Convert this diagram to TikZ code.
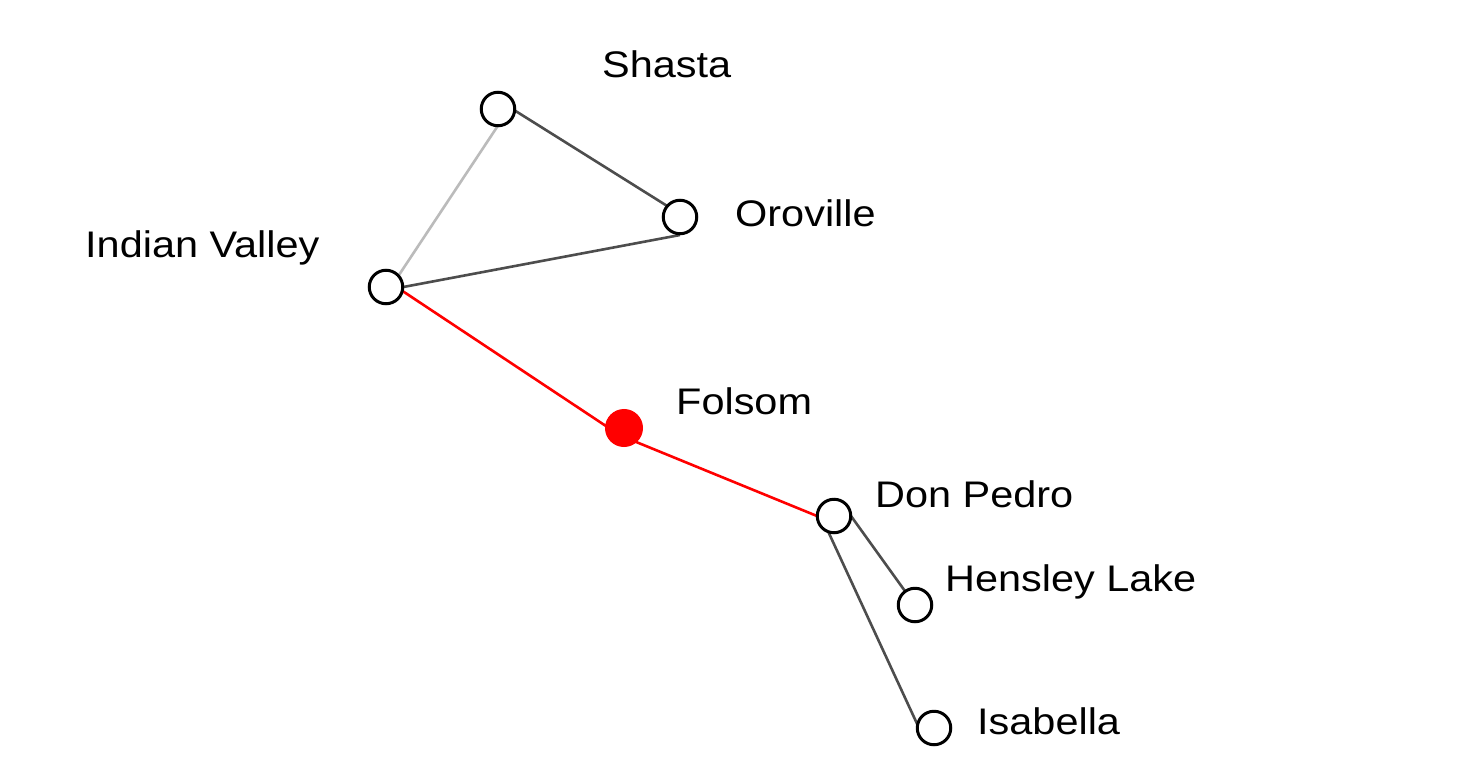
\documentclass[tikz,border=0pt]{standalone}
\usepackage{fontspec}
\setmainfont{Liberation Sans}[FakeStretch=1.12]
\usepackage{tikz}
\usetikzlibrary{backgrounds}

\definecolor{linkdark}{HTML}{4D4D4D}
\definecolor{linklight}{HTML}{BBBBBB}

\begin{document}
\begin{tikzpicture}[x=1pt, y=-1pt,
  lake/.style={circle, draw=black, fill=white, line width=3pt, minimum size=33.5pt, inner sep=0pt},
  lakehere/.style={circle, draw=red, fill=red, line width=3pt, minimum size=35pt, inner sep=0pt},
  laketag/.style={anchor=base west, inner sep=0pt, font=\fontsize{37}{40}\selectfont},
  linkd/.style={draw=linkdark, line width=2.6pt},
  linkl/.style={draw=linklight, line width=2.6pt},
  linkr/.style={draw=red, line width=2.6pt}]
\useasboundingbox (0,0) rectangle (1460,766);
% lakes
\node [lake] (sha) at (498,109) {};
\node [lake] (oro) at (680,217) {};
\node [lake] (ind) at (386,287) {};
\node [lakehere] (fol) at (624,428) {};
\node [lake] (don) at (834,516) {};
\node [lake] (hen) at (915,605) {};
\node [lake] (isa) at (934,728) {};
% labels
\node [laketag] (sha-t) at (602,77) {Shasta};
\node [laketag] (oro-t) at (735,226) {Oroville};
\node [laketag] (ind-t) at (85,257) {Indian Valley};
\node [laketag] (fol-t) at (676,414) {Folsom};
\node [laketag] (don-t) at (875,507) {Don Pedro};
\node [laketag] (hen-t) at (945,591) {Hensley Lake};
\node [laketag] (isa-t) at (977,734) {Isabella};
% links
\begin{pgfonlayer}{background}
\fill [white] (0,0) rectangle (1460,766);
\draw [linkd] ([yshift=9pt]sha.center) -- ([yshift=3pt]oro.center);
\draw [linkl] ([xshift=11pt]sha.center) -- ([xshift=5pt]ind.center);
\draw [linkd] ([yshift=-18pt]oro.center) -- ([xshift=12pt,yshift=-1pt]ind.center);
\draw [linkr] ([xshift=12pt,yshift=-1pt]ind.center) -- ([yshift=-10pt]fol.center);
\draw [linkr] ([yshift=-9pt]fol.center) -- ([xshift=-17pt]don.center);
\draw [linkd] ([xshift=17pt]don.center) -- (hen.center);
\draw [linkd] ([xshift=-13pt]don.center) -- ([xshift=-15pt]isa.center);
\end{pgfonlayer}
\end{tikzpicture}
\end{document}
